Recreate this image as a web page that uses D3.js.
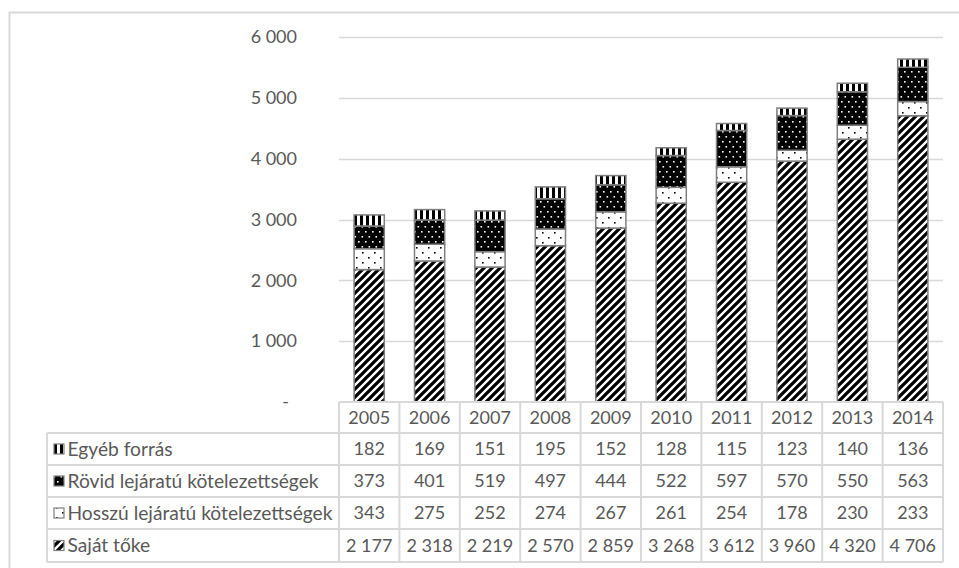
<!DOCTYPE html>
<html><head><meta charset="utf-8">
<script src="https://cdn.jsdelivr.net/npm/d3@7"></script>
<style>
html,body{margin:0;padding:0;background:#fff;}
svg{display:block;font-family:Lato,"Open Sans",sans-serif;}
</style></head>
<body>
<script>
const years = ["2005","2006","2007","2008","2009","2010","2011","2012","2013","2014"];
const sajatToke = [2177,2318,2219,2570,2859,3268,3612,3960,4320,4706];
const hosszu = [343,275,252,274,267,261,254,178,230,233];
const rovid = [373,401,519,497,444,522,597,570,550,563];
const egyeb = [182,169,151,195,152,128,115,123,140,136];
const seriesNames = ["Saját tőke","Hosszú lejáratú kötelezettségek","Rövid lejáratú kötelezettségek","Egyéb forrás"];
const yTicks = [0,1000,2000,3000,4000,5000,6000];

const W=959,H=568;
const svg=d3.select("body").append("svg").attr("width",W).attr("height",H);
const defs=svg.append("defs");

function pat(id,w,h,bg){
  const p=defs.append("pattern").attr("id",id).attr("patternUnits","userSpaceOnUse").attr("width",w).attr("height",h);
  p.append("rect").attr("width",w).attr("height",h).attr("fill",bg);
  return p;
}
const pS=pat("pSajat",8,8,"#fff");
pS.append("path").attr("d","M-2,2L2,-2M0,8L8,0M6,10L10,6").attr("stroke","#000").attr("stroke-width",3.3);
const pH=pat("pHosszu",12,10,"#fff");
pH.append("rect").attr("x",2).attr("y",2).attr("width",1.6).attr("height",1.6).attr("fill","#000");
pH.append("rect").attr("x",8).attr("y",7).attr("width",1.6).attr("height",1.6).attr("fill","#000");
const pR=pat("pRovid",7,10,"#000");
pR.append("rect").attr("x",1).attr("y",1).attr("width",1.6).attr("height",1.6).attr("fill","#fff");
pR.append("rect").attr("x",4.5).attr("y",6).attr("width",1.6).attr("height",1.6).attr("fill","#fff");
const pE=pat("pEgyeb",6,6,"#fff");
pE.append("rect").attr("x",0).attr("y",0).attr("width",3).attr("height",6).attr("fill","#000");
const fills=["url(#pSajat)","url(#pHosszu)","url(#pRovid)","url(#pEgyeb)"];

svg.append("rect").attr("x",9.5).attr("y",12.5).attr("width",W+20).attr("height",H+20)
  .attr("fill","none").attr("stroke","#d9d9d9").attr("stroke-width",2);

const x0=339,x1=943;
const x=d3.scaleBand().domain(years).range([x0,x1]).paddingInner(0).paddingOuter(0);
const y=d3.scaleLinear().domain([0,6000]).range([402,37]);

const textCol="#595959";
const fsNum=18;
const fsLab=19.2;
const fmt=v=>d3.format(",")(v).replace(/,/g," ");

svg.append("g").selectAll("line").data(yTicks.filter(d=>d>0)).join("line")
  .attr("x1",x0).attr("x2",x1).attr("y1",d=>Math.round(y(d))+0.5).attr("y2",d=>Math.round(y(d))+0.5)
  .attr("stroke","#d9d9d9").attr("stroke-width",1.5);

svg.append("g").selectAll("text").data(yTicks).join("text")
  .attr("x",d=>d===0?289:297).attr("y",d=>y(d)).attr("dy","0.35em")
  .attr("text-anchor","end").attr("fill",textCol).attr("font-size",fsNum)
  .text(d=>d===0?"-":fmt(d));

const rows=years.map((yr,i)=>({year:yr,s0:sajatToke[i],s1:hosszu[i],s2:rovid[i],s3:egyeb[i]}));
const stack=d3.stack().keys(["s0","s1","s2","s3"])(rows);
const bw=x.bandwidth()*0.5;
stack.forEach((layer,k)=>{
  svg.append("g").selectAll("rect").data(layer).join("rect")
    .attr("x",d=>x(d.data.year)+(x.bandwidth()-bw)/2)
    .attr("width",bw)
    .attr("y",d=>y(d[1]))
    .attr("height",d=>y(d[0])-y(d[1]))
    .attr("fill",fills[k]).attr("stroke","#7f7f7f").attr("stroke-width",1.5);
});

const tb=svg.append("g");
const rowTop=[402,433,465,497,529,562];
const labelLeft=47;
const tableRows=[{name:seriesNames[3],vals:egyeb,f:fills[3]},{name:seriesNames[2],vals:rovid,f:fills[2]},{name:seriesNames[1],vals:hosszu,f:fills[1]},{name:seriesNames[0],vals:sajatToke,f:fills[0]}];
const lc="#d9d9d9";
tb.append("line").attr("x1",x0).attr("x2",x1).attr("y1",rowTop[0]).attr("y2",rowTop[0]).attr("stroke",lc).attr("stroke-width",2);
for(let r=1;r<rowTop.length;r++){
  tb.append("line").attr("x1",labelLeft).attr("x2",x1).attr("y1",rowTop[r]).attr("y2",rowTop[r]).attr("stroke",lc).attr("stroke-width",2);
}
tb.append("line").attr("x1",labelLeft).attr("x2",labelLeft).attr("y1",rowTop[1]).attr("y2",rowTop[5]).attr("stroke",lc).attr("stroke-width",2);
years.forEach(yr=>{
  tb.append("line").attr("x1",x(yr)).attr("x2",x(yr)).attr("y1",rowTop[0]).attr("y2",rowTop[5]).attr("stroke",lc).attr("stroke-width",2);
});
tb.append("line").attr("x1",x1).attr("x2",x1).attr("y1",rowTop[0]).attr("y2",rowTop[5]).attr("stroke",lc).attr("stroke-width",2);
tb.selectAll("text.yr").data(years).join("text").attr("class","yr")
  .attr("x",d=>x(d)+x.bandwidth()/2).attr("y",(rowTop[0]+rowTop[1])/2).attr("dy","0.36em")
  .attr("text-anchor","middle").attr("fill",textCol).attr("font-size",fsNum).text(d=>d);
tableRows.forEach((row,r)=>{
  const cy=(rowTop[r+1]+rowTop[r+2])/2;
  tb.append("rect").attr("x",54).attr("y",cy-5).attr("width",10).attr("height",10)
    .attr("fill",row.f).attr("stroke","#7f7f7f").attr("stroke-width",1.2);
  tb.append("text").attr("x",67.5).attr("y",cy).attr("dy","0.36em").attr("fill",textCol).attr("font-size",fsLab).text(row.name);
  tb.selectAll(null).data(row.vals).join("text")
    .attr("x",(d,i)=>x(years[i])+x.bandwidth()/2).attr("y",cy).attr("dy","0.36em")
    .attr("text-anchor","middle").attr("fill",textCol).attr("font-size",fsNum).text(d=>fmt(d));
});
</script>
</body></html>
